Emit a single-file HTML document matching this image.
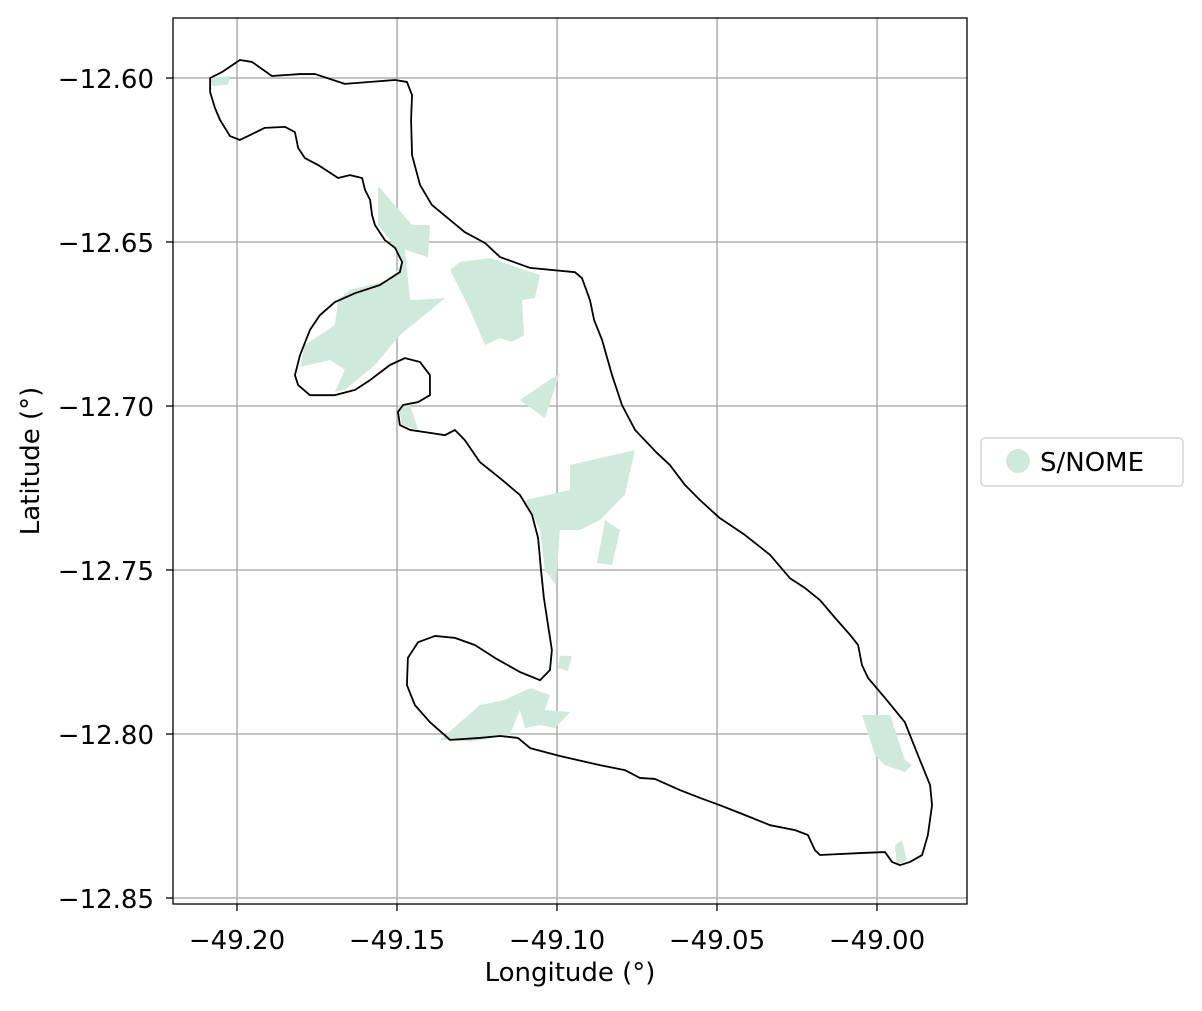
<!DOCTYPE html>
<html><head><meta charset="utf-8"><style>
body{margin:0;background:#fff;}
svg text{font-family:"DejaVu Sans","Liberation Sans",sans-serif;fill:#000;font-size:26px;}
</style></head><body>
<svg id="chart" width="1202" height="1006" xmlns="http://www.w3.org/2000/svg"></svg>
<script>
const xTicks=[-49.20,-49.15,-49.10,-49.05,-49.00];
const yTicks=[-12.60,-12.65,-12.70,-12.75,-12.80,-12.85];
const xTickLabels=["\u221249.20","\u221249.15","\u221249.10","\u221249.05","\u221249.00"];
const yTickLabels=["\u221212.60","\u221212.65","\u221212.70","\u221212.75","\u221212.80","\u221212.85"];
const legendLabels=["S/NOME"];
const outlineLon=[-49.2084,-49.2047,-49.1991,-49.1953,-49.1891,-49.1803,-49.1756,-49.1663,-49.1506,-49.1469,-49.1453,-49.1456,-49.1453,-49.1428,-49.1391,-49.1288,-49.1225,-49.1178,-49.1084,-49.0944,-49.0922,-49.0897,-49.0884,-49.0859,-49.0828,-49.0797,-49.0756,-49.0691,-49.0647,-49.0600,-49.0553,-49.0491,-49.0413,-49.0334,-49.0272,-49.0225,-49.0178,-49.0131,-49.0084,-49.0059,-49.0047,-49.0028,-48.9975,-48.9913,-48.9891,-48.9866,-48.9834,-48.9828,-48.9841,-48.9859,-48.9897,-48.9928,-48.9953,-48.9975,-49.0053,-49.0178,-49.0194,-49.0216,-49.0256,-49.0334,-49.0413,-49.0491,-49.0553,-49.0616,-49.0694,-49.0741,-49.0788,-49.0866,-49.0991,-49.1084,-49.1122,-49.1178,-49.1241,-49.1334,-49.1397,-49.1444,-49.1469,-49.1466,-49.1434,-49.1381,-49.1319,-49.1256,-49.1194,-49.1116,-49.1053,-49.1022,-49.1016,-49.1028,-49.1041,-49.1050,-49.1059,-49.1078,-49.1116,-49.1178,-49.1241,-49.1288,-49.1319,-49.1350,-49.1397,-49.1459,-49.1491,-49.1497,-49.1481,-49.1434,-49.1397,-49.1397,-49.1428,-49.1475,-49.1522,-49.1584,-49.1631,-49.1694,-49.1772,-49.1809,-49.1819,-49.1803,-49.1772,-49.1741,-49.1694,-49.1631,-49.1553,-49.1491,-49.1484,-49.1506,-49.1538,-49.1569,-49.1578,-49.1584,-49.1600,-49.1609,-49.1647,-49.1684,-49.1747,-49.1788,-49.1809,-49.1819,-49.1850,-49.1913,-49.1959,-49.1991,-49.2022,-49.2053,-49.2069,-49.2084];
const outlineLat=[-12.6000,-12.5982,-12.5945,-12.5951,-12.5994,-12.5988,-12.5988,-12.6018,-12.6006,-12.6012,-12.6052,-12.6128,-12.6235,-12.6326,-12.6387,-12.6470,-12.6503,-12.6546,-12.6579,-12.6592,-12.6610,-12.6677,-12.6738,-12.6799,-12.6906,-12.6997,-12.7073,-12.7140,-12.7180,-12.7241,-12.7287,-12.7342,-12.7393,-12.7454,-12.7525,-12.7555,-12.7592,-12.7646,-12.7698,-12.7729,-12.7790,-12.7829,-12.7890,-12.7964,-12.8018,-12.8079,-12.8156,-12.8217,-12.8308,-12.8369,-12.8390,-12.8400,-12.8390,-12.8360,-12.8363,-12.8369,-12.8354,-12.8308,-12.8293,-12.8278,-12.8247,-12.8217,-12.8195,-12.8171,-12.8137,-12.8134,-12.8110,-12.8095,-12.8067,-12.8043,-12.8012,-12.8006,-12.8012,-12.8018,-12.7964,-12.7912,-12.7851,-12.7768,-12.7720,-12.7701,-12.7707,-12.7729,-12.7768,-12.7811,-12.7836,-12.7805,-12.7744,-12.7668,-12.7585,-12.7500,-12.7403,-12.7332,-12.7271,-12.7220,-12.7171,-12.7104,-12.7073,-12.7089,-12.7082,-12.7073,-12.7058,-12.7018,-12.6997,-12.6988,-12.6967,-12.6906,-12.6866,-12.6854,-12.6875,-12.6921,-12.6951,-12.6967,-12.6967,-12.6936,-12.6906,-12.6845,-12.6768,-12.6723,-12.6683,-12.6656,-12.6631,-12.6592,-12.6561,-12.6518,-12.6494,-12.6448,-12.6418,-12.6372,-12.6341,-12.6305,-12.6296,-12.6305,-12.6265,-12.6244,-12.6213,-12.6165,-12.6149,-12.6152,-12.6174,-12.6189,-12.6177,-12.6128,-12.6091,-12.6043];
const parcelsLon=[
[-49.1559,-49.1453,-49.1397,-49.1403,-49.1475,-49.1459,-49.1350,-49.1491,-49.1569,-49.1663,-49.1694,-49.1663,-49.1709,-49.1803,-49.1788,-49.1694,-49.1684,-49.1647,-49.1522,-49.1484,-49.1522,-49.1559],
[-49.1334,-49.1303,-49.1209,-49.1053,-49.1069,-49.1109,-49.1103,-49.1141,-49.1178,-49.1225,-49.1272],
[-49.1116,-49.1038,-49.0991,-49.1038],
[-49.0959,-49.0756,-49.0788,-49.0866,-49.0928,-49.0991,-49.1003,-49.1038,-49.1053,-49.1100,-49.0959],
[-49.0850,-49.0803,-49.0828,-49.0875],
[-49.1366,-49.1241,-49.1163,-49.1084,-49.1022,-49.1038,-49.0959,-49.1006,-49.1053,-49.1100,-49.1116,-49.1147,-49.1272],
[-49.0991,-49.0953,-49.0966,-49.0997],
[-49.0047,-48.9959,-48.9913,-48.9891,-48.9913,-48.9975,-49.0006],
[-48.9944,-48.9922,-48.9906,-48.9938],
[-49.2084,-49.2022,-49.2028,-49.2078],
[-49.1497,-49.1459,-49.1434,-49.1484]];
const parcelsLat=[
[-12.6329,-12.6448,-12.6448,-12.6546,-12.6524,-12.6677,-12.6671,-12.6784,-12.6875,-12.6951,-12.6957,-12.6890,-12.6860,-12.6881,-12.6814,-12.6753,-12.6677,-12.6646,-12.6616,-12.6564,-12.6494,-12.6448],
[-12.6585,-12.6561,-12.6549,-12.6601,-12.6671,-12.6677,-12.6784,-12.6805,-12.6793,-12.6814,-12.6707],
[-12.6982,-12.6930,-12.6900,-12.7037],
[-12.7180,-12.7134,-12.7271,-12.7348,-12.7378,-12.7378,-12.7546,-12.7500,-12.7378,-12.7287,-12.7256],
[-12.7348,-12.7378,-12.7485,-12.7479],
[-12.8018,-12.7912,-12.7896,-12.7860,-12.7881,-12.7927,-12.7933,-12.7982,-12.7973,-12.7982,-12.7927,-12.8003,-12.8024],
[-12.7762,-12.7762,-12.7808,-12.7799],
[-12.7942,-12.7942,-12.8079,-12.8095,-12.8116,-12.8095,-12.8064],
[-12.8339,-12.8323,-12.8384,-12.8400],
[-12.6000,-12.5994,-12.6021,-12.6024],
[-12.6997,-12.6997,-12.7073,-12.7058]];

const NS="http://www.w3.org/2000/svg";
const svg=document.getElementById('chart');
const L=173,R=967,T=18,B=904;
const xS=v=>237+(v+49.20)/0.05*160;
const yS=v=>78+(-12.60-v)/0.05*164;
function mk(tag,attrs,parent){const e=document.createElementNS(NS,tag);for(const k in attrs)e.setAttribute(k,attrs[k]);(parent||svg).appendChild(e);return e;}
const clip=mk('clipPath',{id:'pc'});mk('rect',{x:L,y:T,width:R-L,height:B-T},clip);
xTicks.forEach((t,i)=>{const g=mk('line',{x1:xS(t),x2:xS(t),y1:T,y2:B,stroke:'#b0b0b0','stroke-width':1.6});

});
yTicks.forEach((t,i)=>{const g=mk('line',{x1:L,x2:R,y1:yS(t),y2:yS(t),stroke:'#b0b0b0','stroke-width':1.6});

});
const pg=mk('g',{'clip-path':'url(#pc)'});
parcelsLon.forEach((lons,i)=>{const pts=lons.map((v,j)=>xS(v)+','+yS(parcelsLat[i][j])).join(' ');
const p=mk('polygon',{points:pts,fill:'#cfeadc',stroke:'none'},pg);

});
const op=outlineLon.map((v,j)=>xS(v)+','+yS(outlineLat[j])).join(' ');
const ol=mk('polygon',{points:op,fill:'none',stroke:'#000','stroke-width':1.8,'stroke-linejoin':'round'},pg);


const fr=mk('rect',{x:L,y:T,width:R-L,height:B-T,fill:'none',stroke:'#000','stroke-width':1.3});


xTicks.forEach((t,i)=>{mk('line',{x1:xS(t),x2:xS(t),y1:B,y2:B+7,stroke:'#000','stroke-width':1.3});
const tx=mk('text',{x:xS(t),y:B+45,'text-anchor':'middle'});tx.textContent=xTickLabels[i];

});
yTicks.forEach((t,i)=>{mk('line',{x1:L-7,x2:L,y1:yS(t),y2:yS(t),stroke:'#000','stroke-width':1.3});
const tx=mk('text',{x:L-19,y:yS(t)+10,'text-anchor':'end'});tx.textContent=yTickLabels[i];

});
const xt=mk('text',{x:570,y:981,'text-anchor':'middle'});xt.textContent='Longitude (°)';


const yt=mk('text',{x:39,y:461,'text-anchor':'middle',transform:'rotate(-90 39 461)'});yt.textContent='Latitude (°)';


const lg=mk('g',{});


mk('rect',{x:981,y:438,width:202,height:48,rx:4,fill:'#fff',stroke:'#d5d5d5','stroke-width':1.5},lg);
const lc=mk('circle',{cx:1018,cy:461,r:12,fill:'#cfeadc'},lg);


const lt=mk('text',{x:1040,y:471},lg);lt.textContent=legendLabels[0];


</script>
</body></html>
